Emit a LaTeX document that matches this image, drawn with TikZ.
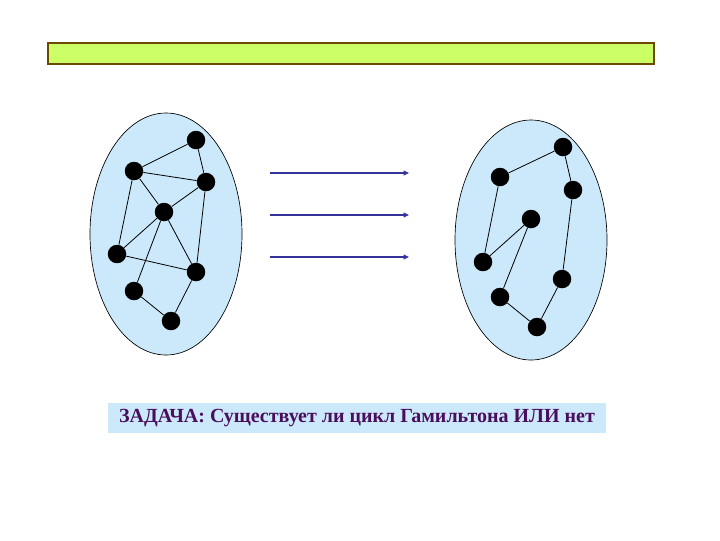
\documentclass[tikz,border=0pt]{standalone}
\usepackage{fontspec}
\setmainfont{Liberation Serif}
\usetikzlibrary{arrows.meta}
\definecolor{bar}{HTML}{CCFF66}
\definecolor{barline}{HTML}{6B4A00}
\definecolor{oval}{HTML}{CCE9FB}
\definecolor{arr}{HTML}{333399}
\definecolor{txt}{HTML}{4A0F5C}
\begin{document}
\begin{tikzpicture}[x=0.75pt,y=-0.75pt,
  v/.style={circle,fill=black,inner sep=0pt,minimum size=18.5*0.75pt},
  e/.style={black,line width=0.6pt},
  ov/.style={draw=black,fill=oval,line width=0.5pt},
  ar/.style={arr,line width=1.2pt,-{Triangle[length=4pt,width=3.5pt]}}]
\useasboundingbox (0,0) rectangle (720,540);
\node[draw=barline,fill=bar,line width=1pt,minimum width=606*0.75pt,minimum height=21*0.75pt,inner sep=0pt] (bar) at (351,53.5) {};
\draw[ov] (166,234) ellipse [x radius=76, y radius=121];
\draw[ov] (531,240) ellipse [x radius=76, y radius=120];
\node[v] (A) at (196,140) {};
\node[v] (B) at (134,171) {};
\node[v] (C) at (206,182) {};
\node[v] (D) at (164,212) {};
\node[v] (E) at (117,254) {};
\node[v] (F) at (196,272) {};
\node[v] (G) at (134,291) {};
\node[v] (H) at (171,321) {};
\foreach \p/\q in {A/B,A/C,B/C,B/D,C/D,B/E,D/E,D/F,D/G,C/F,E/F,G/H,F/H}
  \draw[e] (\p) -- (\q);
\node[v] (a) at (563,147) {};
\node[v] (b) at (500,177) {};
\node[v] (c) at (573,190) {};
\node[v] (d) at (531,219) {};
\node[v] (e1) at (483,262) {};
\node[v] (f) at (562,279) {};
\node[v] (g) at (500,297) {};
\node[v] (h) at (537,327) {};
\foreach \p/\q in {a/b,a/c,b/e1,e1/d,d/g,g/h,h/f,f/c}
  \draw[e] (\p) -- (\q);
\foreach \y/\n in {173/1,215/2,257/3}{
  \coordinate (s\n) at (270,\y);
  \coordinate (t\n) at (409,\y);
  \draw[ar] (s\n) -- (t\n);
}
\node[fill=oval,minimum width=498*0.75pt,minimum height=30*0.75pt,inner sep=0pt,text=txt,font=\fontsize{15}{18}\selectfont\bfseries] (task) at (357,418) {ЗАДАЧА: Существует ли цикл Гамильтона ИЛИ нет};
\end{tikzpicture}
\end{document}
